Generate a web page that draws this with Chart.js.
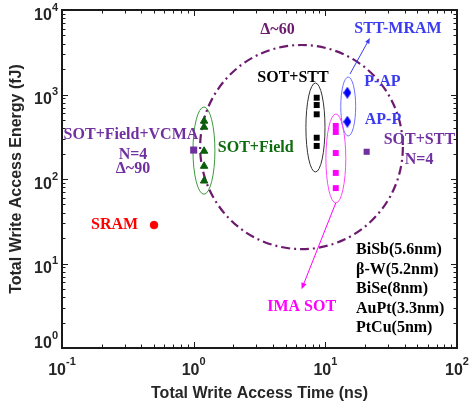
<!DOCTYPE html>
<html>
<head>
<meta charset="utf-8">
<script src="https://cdn.jsdelivr.net/npm/chart.js@4.4.1/dist/chart.umd.min.js"></script>
<style>
  html, body { margin: 0; padding: 0; background: #fff; }
  #chart { display: block; }
</style>
</head>
<body>
<canvas id="chart" width="471" height="411"></canvas>
<script>
// write access time (ns) and energy (fJ) for each technology
const sramTime = [0.5];
const sramEnergy = [28.5];
const vcmaTime = [1.0];
const vcmaEnergy = [220];
const fieldTime = [1.2, 1.2, 1.2, 1.2, 1.2];
const fieldEnergy = [486, 412, 214, 142, 95];
const sotSttTime = [8.6, 8.6, 8.6, 8.6, 8.6];
const sotSttEnergy = [916, 751, 583, 308, 246];
const mramTime = [14.7, 14.7];
const mramEnergy = [1050, 476];
const imaTime = [12, 12, 12, 12, 12];
const imaEnergy = [424, 360, 203, 118, 78];
const sotSttN4Time = [20.6];
const sotSttN4Energy = [210];

const xTicks = [0.1, 1, 10, 100];
const yTicks = [1, 10, 100, 1000, 10000];
const materials = ['BiSb(5.6nm)', 'β-W(5.2nm)', 'BiSe(8nm)', 'AuPt(3.3nm)', 'PtCu(5nm)'];

const PURPLE = '#7030a0';
const DARK_PURPLE = '#6b1a6e';
const BLUE = '#3b3bf0';
const GREEN = '#0e6b0e';
const MAGENTA = '#ff00ff';
const SERIF = '"Liberation Serif", "Times New Roman", serif';
const SANS = '"Liberation Sans", Arial, sans-serif';

// group outlines, bounds given in axis units [min, max]
const outlines = [
    { t: [0.988, 1.45], e: [66, 711], color: '#3c9a3c' },
    { t: [7.12, 9.94], e: [121, 1368], color: '#333333' },
    { t: [13.1, 17.0], e: [323, 1611], color: '#7070ff' },
    { t: [10.1, 14.3], e: [52, 588], color: '#ff44ff' },
    { t: [1.12, 38.8], e: [14.8, 3853], color: DARK_PURPLE, width: 2.2, dash: [9, 4, 2, 4] }
];

const arrows = [
    { from: [15.4, 1749], to: [21.8, 4664], color: BLUE, head: 6 },
    { from: [12.0, 52], to: [6.6, 4.95], color: MAGENTA, head: 7 }
];

const labels = [
    { text: 'Δ~60', t: 4.33, e: 5877, color: DARK_PURPLE },
    { text: 'STT-MRAM', t: 35.6, e: 6040, color: BLUE },
    { text: 'SOT+STT', t: 5.68, e: 1567, color: '#000' },
    { text: 'P-AP', t: 27.1, e: 1406, color: BLUE },
    { text: 'AP-P', t: 27.4, e: 499, color: BLUE },
    { text: 'SOT+STT', t: 51.8, e: 290, color: PURPLE },
    { text: 'N=4', t: 51.5, e: 168, color: PURPLE },
    { text: 'SOT+Field+VCMA', t: 0.334, e: 332, color: PURPLE },
    { text: 'N=4', t: 0.346, e: 192, color: PURPLE },
    { text: 'Δ~90', t: 0.346, e: 131, color: PURPLE },
    { text: 'SOT+Field', t: 2.96, e: 233, color: GREEN },
    { text: 'SRAM', t: 0.251, e: 28.5, color: '#ff0000' },
    { text: 'IMA SOT', t: 6.61, e: 3.06, color: MAGENTA }
];
const materialAt = { t: 17.1, e: [14.4, 8.49, 4.99, 2.93, 1.72] };

function toPoints(xs, ys) {
    return xs.map((v, i) => ({ x: v, y: ys[i] }));
}

function makeDiamond(color) {
    const c = document.createElement('canvas');
    c.width = 8;
    c.height = 12;
    const g = c.getContext('2d');
    g.fillStyle = color;
    g.beginPath();
    g.moveTo(4, 0);
    g.lineTo(8, 6);
    g.lineTo(4, 12);
    g.lineTo(0, 6);
    g.closePath();
    g.fill();
    return c;
}

function drawArrow(ctx, x0, y0, x1, y1, color, head) {
    const a = Math.atan2(y1 - y0, x1 - x0);
    ctx.save();
    ctx.strokeStyle = color;
    ctx.fillStyle = color;
    ctx.lineWidth = 1;
    ctx.beginPath();
    ctx.moveTo(x0, y0);
    ctx.lineTo(x1 - Math.cos(a) * head * 0.8, y1 - Math.sin(a) * head * 0.8);
    ctx.stroke();
    ctx.beginPath();
    ctx.moveTo(x1, y1);
    ctx.lineTo(x1 - head * Math.cos(a - 0.4), y1 - head * Math.sin(a - 0.4));
    ctx.lineTo(x1 - head * Math.cos(a + 0.4), y1 - head * Math.sin(a + 0.4));
    ctx.closePath();
    ctx.fill();
    ctx.restore();
}

const overlayPlugin = {
    id: 'overlay',
    beforeDatasetsDraw(chart) {
        const { ctx, scales: { x, y } } = chart;
        outlines.forEach(o => {
            const x0 = x.getPixelForValue(o.t[0]), x1 = x.getPixelForValue(o.t[1]);
            const y0 = y.getPixelForValue(o.e[1]), y1 = y.getPixelForValue(o.e[0]);
            ctx.save();
            ctx.beginPath();
            ctx.ellipse((x0 + x1) / 2, (y0 + y1) / 2, (x1 - x0) / 2, (y1 - y0) / 2, 0, 0, Math.PI * 2);
            ctx.strokeStyle = o.color;
            ctx.lineWidth = o.width || 1;
            ctx.setLineDash(o.dash || []);
            ctx.stroke();
            ctx.restore();
        });
    },
    afterDatasetsDraw(chart) {
        const { ctx, scales: { x, y } } = chart;
        const { left, right, top, bottom } = chart.chartArea;

        arrows.forEach(a => {
            drawArrow(ctx, x.getPixelForValue(a.from[0]), y.getPixelForValue(a.from[1]),
                x.getPixelForValue(a.to[0]), y.getPixelForValue(a.to[1]), a.color, a.head);
        });

        // frame and inward ticks on all four sides
        ctx.save();
        ctx.strokeStyle = '#1a1a1a';
        ctx.lineWidth = 2;
        ctx.strokeRect(left, top, right - left, bottom - top);
        ctx.lineWidth = 1;
        ctx.beginPath();
        for (let d = -1; d < 2; d++) {
            for (let k = 1; k < 10; k++) {
                const px = Math.round(x.getPixelForValue(k * Math.pow(10, d))) + 0.5;
                const len = k === 1 ? 6 : 3.5;
                ctx.moveTo(px, bottom); ctx.lineTo(px, bottom - len);
                ctx.moveTo(px, top); ctx.lineTo(px, top + len);
            }
        }
        for (let d = 0; d < 4; d++) {
            for (let k = 1; k < 10; k++) {
                const py = Math.round(y.getPixelForValue(k * Math.pow(10, d))) + 0.5;
                const len = k === 1 ? 6 : 3.5;
                ctx.moveTo(left, py); ctx.lineTo(left + len, py);
                ctx.moveTo(right, py); ctx.lineTo(right - len, py);
            }
        }
        ctx.stroke();

        // tick labels as 10 with raised exponent
        ctx.fillStyle = '#262626';
        ctx.textBaseline = 'alphabetic';
        const big = 'bold 16px ' + SANS, small = 'bold 11px ' + SANS;
        xTicks.forEach(v => {
            const exp = String(Math.round(Math.log10(v)));
            ctx.font = big;
            const w1 = ctx.measureText('10').width;
            ctx.font = small;
            const w2 = ctx.measureText(exp).width;
            const sx = x.getPixelForValue(v) - (w1 + w2) / 2;
            ctx.textAlign = 'left';
            ctx.font = big;
            ctx.fillText('10', sx, bottom + 27);
            ctx.font = small;
            ctx.fillText(exp, sx + w1, bottom + 17);
        });
        yTicks.forEach(v => {
            const exp = String(Math.round(Math.log10(v)));
            const base = Math.min(y.getPixelForValue(v) + 9.5, bottom);
            ctx.textAlign = 'right';
            ctx.font = small;
            const w2 = ctx.measureText(exp).width;
            ctx.fillText(exp, left - 4, base - 9);
            ctx.font = big;
            ctx.fillText('10', left - 4 - w2, base);
        });

        // annotations
        ctx.font = 'bold 16px ' + SERIF;
        ctx.textBaseline = 'middle';
        ctx.textAlign = 'center';
        labels.forEach(l => {
            ctx.fillStyle = l.color;
            ctx.fillText(l.text, x.getPixelForValue(l.t), y.getPixelForValue(l.e));
        });
        ctx.textAlign = 'left';
        ctx.fillStyle = '#000';
        materials.forEach((m, i) => {
            ctx.fillText(m, x.getPixelForValue(materialAt.t), y.getPixelForValue(materialAt.e[i]));
        });
        ctx.restore();
    }
};

const ctx = document.getElementById('chart').getContext('2d');
new Chart(ctx, {
    type: 'scatter',
    data: {
        datasets: [
            { label: 'SRAM', data: toPoints(sramTime, sramEnergy), pointStyle: 'circle', pointRadius: 3.8,
              backgroundColor: '#ff0000', borderColor: '#ff0000' },
            { label: 'SOT+Field+VCMA', data: toPoints(vcmaTime, vcmaEnergy), pointStyle: 'rect', pointRadius: 5,
              backgroundColor: PURPLE, borderColor: PURPLE, borderWidth: 0 },
            { label: 'SOT+Field', data: toPoints(fieldTime, fieldEnergy), pointStyle: 'triangle', pointRadius: 4.3,
              backgroundColor: '#0b5f0b', borderColor: '#0b5f0b', borderWidth: 1 },
            { label: 'SOT+STT', data: toPoints(sotSttTime, sotSttEnergy), pointStyle: 'rect', pointRadius: 4.2,
              backgroundColor: '#000', borderColor: '#000', borderWidth: 0 },
            { label: 'STT-MRAM', data: toPoints(mramTime, mramEnergy), pointStyle: makeDiamond('#0000ff'), pointRadius: 5 },
            { label: 'IMA SOT', data: toPoints(imaTime, imaEnergy), pointStyle: 'rect', pointRadius: 4.2,
              backgroundColor: MAGENTA, borderColor: MAGENTA, borderWidth: 0 },
            { label: 'SOT+STT N=4', data: toPoints(sotSttN4Time, sotSttN4Energy), pointStyle: 'rect', pointRadius: 4.3,
              backgroundColor: PURPLE, borderColor: PURPLE, borderWidth: 0 }
        ]
    },
    options: {
        responsive: false,
        animation: false,
        layout: { padding: { top: 10, right: 14, left: 0, bottom: 0 } },
        plugins: { legend: { display: false }, tooltip: { enabled: false } },
        scales: {
            x: {
                type: 'logarithmic', min: 0.1, max: 100,
                grid: { display: false }, border: { display: false }, ticks: { display: false },
                title: { display: true, text: 'Total Write Access Time (ns)', color: '#262626',
                         font: { family: SANS, size: 16, weight: 'bold' }, padding: { top: 0, bottom: 8 } },
                afterFit(s) { s.height = 63; }
            },
            y: {
                type: 'logarithmic', min: 1, max: 10000,
                grid: { display: false }, border: { display: false }, ticks: { display: false },
                title: { display: true, text: 'Total Write Access Energy (fJ)', color: '#262626',
                         font: { family: SANS, size: 16, weight: 'bold' }, padding: { top: 7, bottom: 0 } },
                afterFit(s) { s.width = 62; }
            }
        }
    },
    plugins: [overlayPlugin]
});
</script>
</body>
</html>
